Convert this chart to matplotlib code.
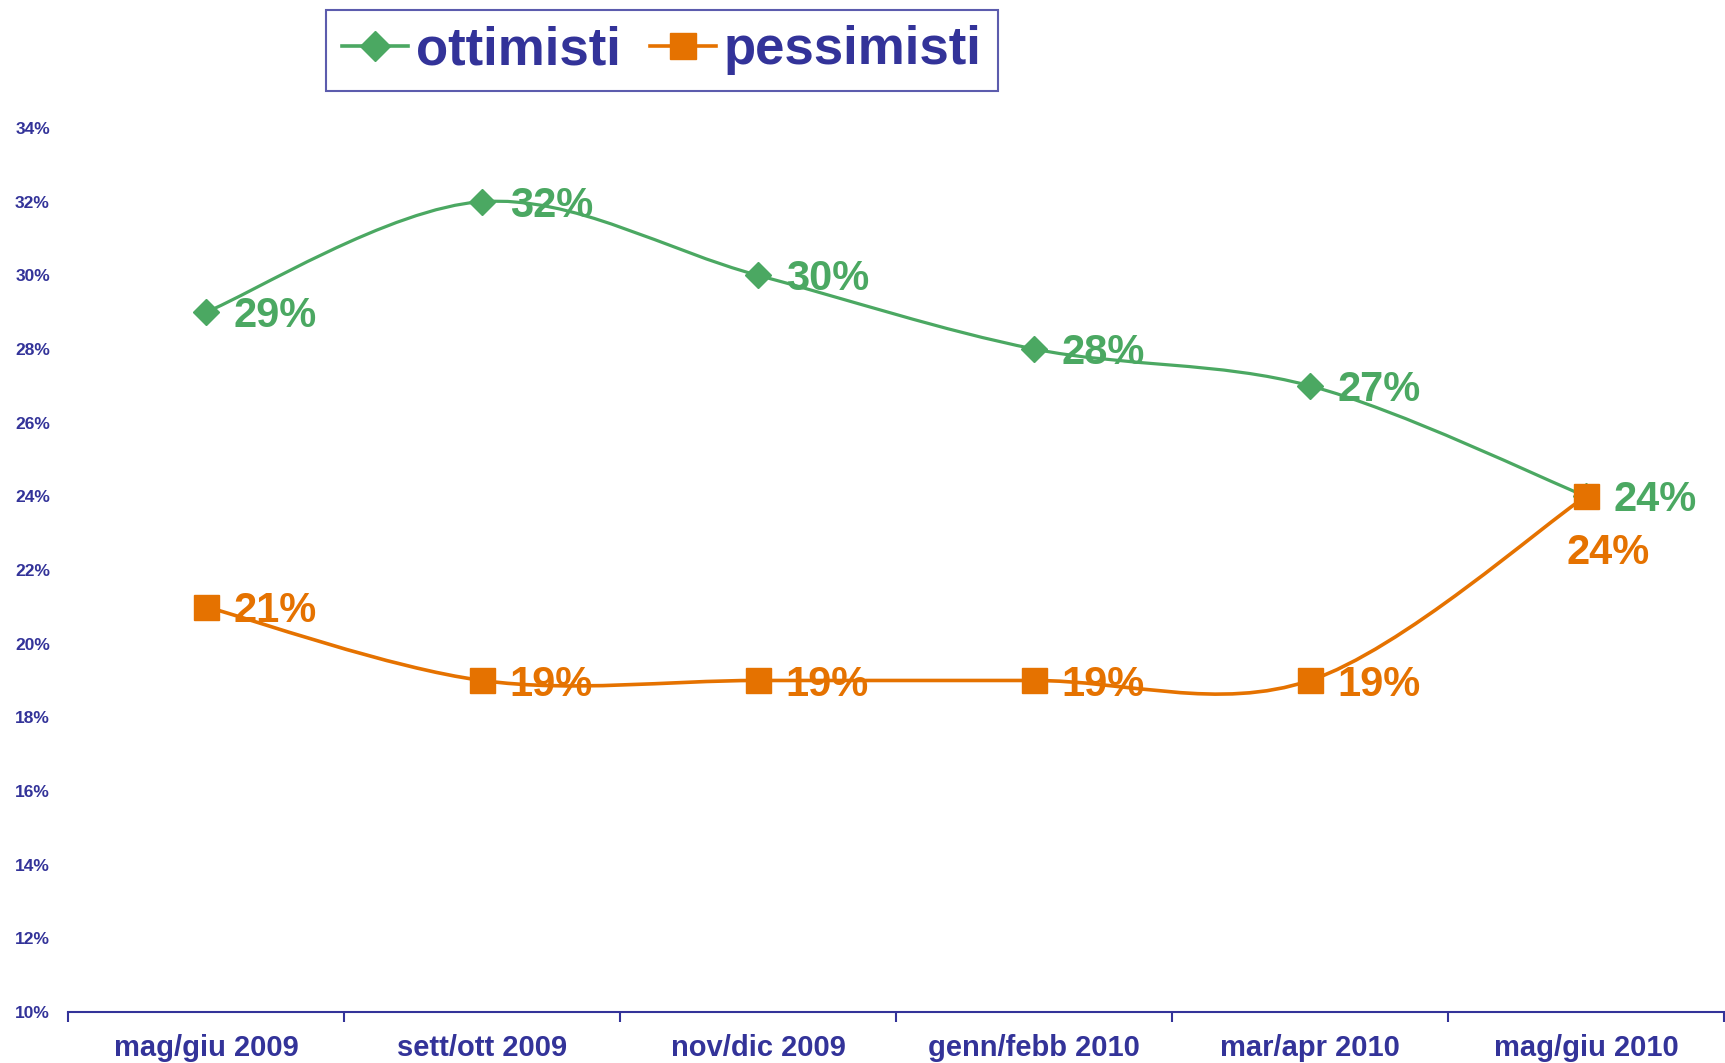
import numpy as np
import matplotlib.pyplot as plt
from matplotlib.path import Path
from matplotlib.patches import PathPatch
from matplotlib.lines import Line2D

# data
periods = ['mag/giu 2009', 'sett/ott 2009', 'nov/dic 2009',
           'genn/febb 2010', 'mar/apr 2010', 'mag/giu 2010']
ottimisti = [29, 32, 30, 28, 27, 24]
pessimisti = [21, 19, 19, 19, 19, 24]
y_ticks = [10, 12, 14, 16, 18, 20, 22, 24, 26, 28, 30, 32, 34]

navy = '#333399'
green = '#4BA862'
orange = '#E57200'

plt.rcParams['font.family'] = ['Liberation Sans', 'DejaVu Sans']
plt.rcParams['font.weight'] = 'bold'


# smooth curve through the points (like the spreadsheet "smoothed line")
def smooth_path(xs, ys):
    pts = np.column_stack([xs, ys]).astype(float)
    n = len(pts)
    verts = [pts[0]]
    codes = [Path.MOVETO]
    for i in range(n - 1):
        p0 = pts[max(i - 1, 0)]
        p1 = pts[i]
        p2 = pts[i + 1]
        p3 = pts[min(i + 2, n - 1)]
        c1 = p1 + (p2 - p0) / 6.
        c2 = p2 - (p3 - p1) / 6.
        verts += [c1, c2, p2]
        codes += [Path.CURVE4] * 3
    return Path(verts, codes)


fig = plt.figure(figsize=(17.25, 10.63), dpi=100)
ax = fig.add_axes([0.0394, 0.048, 0.9600, 0.8316])

x = np.arange(len(periods))

for vals, col, mk, ms, lw in [(ottimisti, green, 'D', 13, 2.3),
                              (pessimisti, orange, 's', 18, 2.6)]:
    ax.add_patch(PathPatch(smooth_path(x, vals), facecolor='none',
                           edgecolor=col, lw=lw, zorder=2))
    ax.plot(x, vals, linestyle='none', marker=mk, ms=ms, color=col,
            mec=col, zorder=3)

# value labels
for i, v in enumerate(ottimisti):
    ax.annotate('%d%%' % v, (i, v), xytext=(20, -3), textcoords='offset points',
                ha='left', va='center', fontsize=30, color=green,
                fontweight='bold', zorder=4)
for i, v in enumerate(pessimisti):
    if i == len(pessimisti) - 1:
        off, ha = (16, -41), 'center'
    else:
        off, ha = (20, -3), 'left'
    ax.annotate('%d%%' % v, (i, v), xytext=off, textcoords='offset points',
                ha=ha, va='center', fontsize=30, color=orange,
                fontweight='bold', zorder=4)

ax.set_xlim(-0.5, len(periods) - 0.5)
ax.set_ylim(10, 34)

ax.set_yticks(y_ticks)
ax.set_yticklabels(['%d%%' % t for t in y_ticks])
ax.tick_params(axis='y', length=0, pad=13, labelsize=12.5, labelcolor=navy)

ax.set_xticks(x)
ax.set_xticklabels(periods)
ax.set_xticks(np.arange(-0.5, len(periods)), minor=True)
ax.tick_params(axis='x', which='major', length=0, pad=16, labelsize=21,
               labelcolor=navy)
ax.tick_params(axis='x', which='minor', length=7, width=1.5, color=navy,
               direction='out')

for s in ['top', 'right', 'left']:
    ax.spines[s].set_visible(False)
ax.spines['bottom'].set_color(navy)
ax.spines['bottom'].set_linewidth(1.5)

handles = [Line2D([], [], color=green, lw=2.6, marker='D', ms=15),
           Line2D([], [], color=orange, lw=2.6, marker='s', ms=19)]
leg = fig.legend(handles, ['ottimisti', 'pessimisti'], loc='center',
                 bbox_to_anchor=(0.3838, 0.9525), ncol=2, fontsize=38,
                 frameon=True, fancybox=False, handlelength=1.25,
                 handletextpad=0.15, columnspacing=0.55, borderpad=0.3,
                 borderaxespad=0)
leg.get_frame().set_edgecolor(navy)
leg.get_frame().set_linewidth(1.5)
for t in leg.get_texts():
    t.set_color(navy)
    t.set_fontweight('bold')

fig.savefig('out.png', dpi=100)
